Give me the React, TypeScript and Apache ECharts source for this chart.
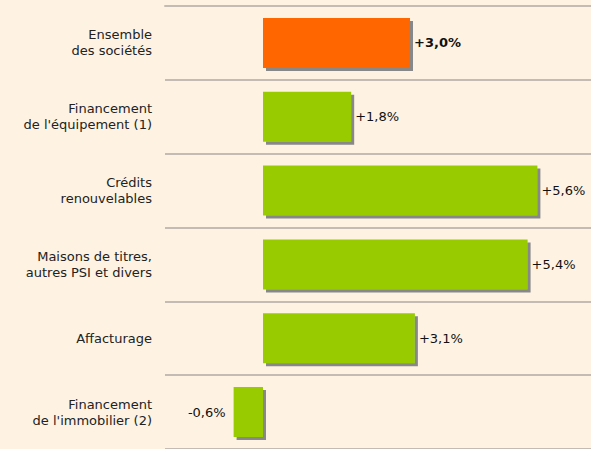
import React, { useEffect, useRef } from "react";
import * as echarts from "echarts";

const categories = [
  "Ensemble\ndes sociétés",
  "Financement\nde l'équipement (1)",
  "Crédits\nrenouvelables",
  "Maisons de titres,\nautres PSI et divers",
  "Affacturage",
  "Financement\nde l'immobilier (2)",
];
const values = [3.0, 1.8, 5.6, 5.4, 3.1, -0.6];
const valueLabels = ["+3,0%", "+1,8%", "+5,6%", "+5,4%", "+3,1%", "-0,6%"];
const barColors = ["#FF6600", "#99CC00", "#99CC00", "#99CC00", "#99CC00", "#99CC00"];
const boldFlags = [true, false, false, false, false, false];

export default function App() {
  const ref = useRef<HTMLDivElement>(null);
  useEffect(() => {
    document.body.style.margin = "0";
    if (!ref.current) return;
    const chart = echarts.init(ref.current, null, { renderer: "svg" });
    const textFont = "DejaVu Sans";
    const sepStyle = { color: "#C4BCB4", width: 2 };
    chart.setOption({
      animation: false,
      backgroundColor: "#FEF3E2",
      grid: [
        { left: 214, width: 343, top: 6, height: 444, containLabel: false },
        { left: 165, right: 0, top: 6, height: 444, containLabel: false },
      ],
      xAxis: [
        { type: "value", gridIndex: 0, min: -1, max: 6, show: false },
        {
          type: "value",
          gridIndex: 1,
          min: 0,
          max: 1,
          position: "top",
          axisLine: { show: true, lineStyle: sepStyle },
          axisTick: { show: false },
          axisLabel: { show: false },
          splitLine: { show: false },
        },
      ],
      yAxis: [
        {
          type: "category",
          gridIndex: 0,
          data: categories,
          inverse: true,
          axisLine: { show: false },
          axisTick: { show: false },
          splitLine: { show: false },
          axisLabel: {
            margin: 62,
            fontSize: 13,
            lineHeight: 16,
            color: "#222",
            fontFamily: textFont,
            align: "right",
          },
        },
        {
          type: "category",
          gridIndex: 1,
          data: categories,
          inverse: true,
          axisLine: { show: false },
          axisTick: { show: false },
          axisLabel: { show: false },
          splitLine: { show: true, lineStyle: sepStyle },
        },
      ],
      series: [
        {
          type: "bar",
          xAxisIndex: 0,
          yAxisIndex: 0,
          barWidth: 50,
          data: values.map((v, i) => ({
            value: v,
            itemStyle: {
              color: barColors[i],
              shadowColor: "#888888",
              shadowOffsetX: 3,
              shadowOffsetY: 3,
              shadowBlur: 0,
            },
            label: {
              show: true,
              position: v < 0 ? "left" : "right",
              distance: v < 0 ? 8 : 4,
              formatter: valueLabels[i],
              fontSize: 13,
              fontWeight: boldFlags[i] ? "bold" : "normal",
              color: "#111",
              fontFamily: textFont,
            },
          })),
        },
      ],
    });
    return () => chart.dispose();
  }, []);
  return <div ref={ref} style={{ width: 591, height: 449 }} />;
}
